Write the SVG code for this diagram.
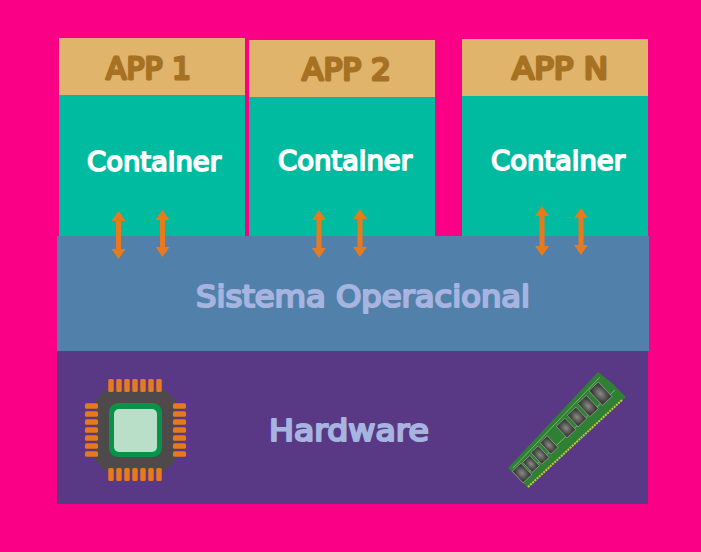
<svg xmlns="http://www.w3.org/2000/svg" width="701" height="552" viewBox="0 0 701 552">
<style>
.t{font-family:"DejaVu Sans",sans-serif;font-weight:400;stroke-linejoin:round;stroke-linecap:round}
.app{fill:#E0B46A}.cont{fill:#00BB9F}
.appt{font-size:31px;fill:#A67123;stroke:#A67123;stroke-width:2.8}
.ct{font-size:27px;fill:#fff;stroke:#fff;stroke-width:1.8}
.lt{font-size:31px;fill:#A7B4E0;stroke:#A7B4E0;stroke-width:2.2}
.arrow{stroke:#E77A1C;stroke-width:5;fill:none;marker-start:url(#h);marker-end:url(#h)}
.pin{fill:#E77A1C}
.mem{fill:url(#chip);stroke:#9aa696;stroke-width:.7}
</style>
<defs>
<marker id="h" viewBox="0 0 10 14" refX="1" refY="7" markerUnits="userSpaceOnUse" markerWidth="10" markerHeight="14" orient="auto-start-reverse"><path d="M0 0L10 7L0 14Z" fill="#E77A1C"/></marker>
<radialGradient id="chip"><stop offset="0" stop-color="#8b8b86"/><stop offset="1" stop-color="#3e3e3c"/></radialGradient>
<rect id="pv" class="pin" x="-2.750" y="0" width="5.500" height="13" rx="1.500"/>
<rect id="ph" class="pin" x="0" y="-2.750" width="13" height="5.500" rx="1.500"/>
</defs>
<rect width="701" height="552" fill="#FA0087"/>
<g id="app1"><rect class="cont" x="59" y="95" width="186" height="142"/><rect class="app" x="59" y="38" width="186" height="57"/><text class="t appt" x="106" y="79" textLength="85" lengthAdjust="spacingAndGlyphs">APP 1</text><text class="t ct" x="87" y="171" textLength="134" lengthAdjust="spacingAndGlyphs">Container</text></g>
<g id="app2"><rect class="cont" x="249" y="97" width="186" height="140"/><rect class="app" x="249" y="40" width="186" height="57"/><text class="t appt" x="302" y="80" textLength="89" lengthAdjust="spacingAndGlyphs">APP 2</text><text class="t ct" x="278" y="170" textLength="134" lengthAdjust="spacingAndGlyphs">Container</text></g>
<g id="appn"><rect class="cont" x="462" y="96" width="186" height="141"/><rect class="app" x="462" y="39" width="186" height="57"/><text class="t appt" x="512" y="79" textLength="96" lengthAdjust="spacingAndGlyphs">APP N</text><text class="t ct" x="491" y="170" textLength="134" lengthAdjust="spacingAndGlyphs">Container</text></g>
<g id="so"><rect x="57" y="236" width="592" height="115" fill="#5181AB"/><text class="t lt" x="196" y="307" textLength="334" lengthAdjust="spacingAndGlyphs">Sistema Operacional</text></g>
<g id="hardware"><rect x="57" y="351" width="591" height="153" fill="#593985"/><text class="t lt" x="269" y="441" textLength="160" lengthAdjust="spacingAndGlyphs">Hardware</text></g>
<g id="cpu">
<path d="M106 390H165L176 401V460L165 471H106L95 460V401Z" fill="#4E4A4B"/>
<g><use href="#pv" x="111" y="379"/><use href="#pv" x="119" y="379"/><use href="#pv" x="127" y="379"/><use href="#pv" x="135" y="379"/><use href="#pv" x="143" y="379"/><use href="#pv" x="151" y="379"/><use href="#pv" x="159" y="379"/>
<use href="#pv" x="111" y="468"/><use href="#pv" x="119" y="468"/><use href="#pv" x="127" y="468"/><use href="#pv" x="135" y="468"/><use href="#pv" x="143" y="468"/><use href="#pv" x="151" y="468"/><use href="#pv" x="159" y="468"/>
<use href="#ph" x="85" y="406"/><use href="#ph" x="85" y="414"/><use href="#ph" x="85" y="422"/><use href="#ph" x="85" y="430"/><use href="#ph" x="85" y="438"/><use href="#ph" x="85" y="446"/><use href="#ph" x="85" y="454"/>
<use href="#ph" x="173" y="406"/><use href="#ph" x="173" y="414"/><use href="#ph" x="173" y="422"/><use href="#ph" x="173" y="430"/><use href="#ph" x="173" y="438"/><use href="#ph" x="173" y="446"/><use href="#ph" x="173" y="454"/></g>
<rect x="109" y="403" width="53" height="54" rx="9" fill="#0A9248"/>
<rect x="114" y="409" width="43" height="43" rx="5" fill="#BADFC9"/>
</g>
<g id="ram">
<path d="M508 468L598 372L612 383L626 397L622 401L528 488Z" fill="#2F7F35"/>
<path d="M513 468L600 377M522 478L615 390" stroke="#8CBF7A" stroke-width=".8" fill="none"/>
<path d="M528 487L622 400" stroke="#C8C832" stroke-width="2" stroke-dasharray="2 1" fill="none"/>
<g class="mem">
<rect x="-6" y="-8" width="12" height="16" transform="translate(522 473) rotate(-43)"/>
<rect x="-5" y="-7" width="10" height="14" transform="translate(531 464) rotate(-43)"/>
<rect x="-5" y="-8" width="10" height="16" transform="translate(540 455) rotate(-43)"/>
<rect x="-5" y="-8" width="10" height="16" transform="translate(549 445) rotate(-43)"/>
<rect x="-6" y="-8" width="12" height="16" transform="translate(566 428) rotate(-43)"/>
<rect x="-6" y="-8" width="12" height="16" transform="translate(577 417) rotate(-43)"/>
<rect x="-6" y="-9" width="12" height="18" transform="translate(588 406) rotate(-43)"/>
<rect x="-6" y="-10" width="13" height="20" transform="translate(600 394) rotate(-43)"/>
</g>
</g>
<g id="connectors">
<line class="arrow" x1="118.500" y1="220" x2="118.500" y2="250"/>
<line class="arrow" x1="162.500" y1="219" x2="162.500" y2="248"/>
<line class="arrow" x1="319" y1="219" x2="319" y2="249"/>
<line class="arrow" x1="360" y1="218" x2="360" y2="248"/>
<line class="arrow" x1="542" y1="215" x2="542" y2="247"/>
<line class="arrow" x1="581" y1="217" x2="581" y2="246"/>
</g>
</svg>
